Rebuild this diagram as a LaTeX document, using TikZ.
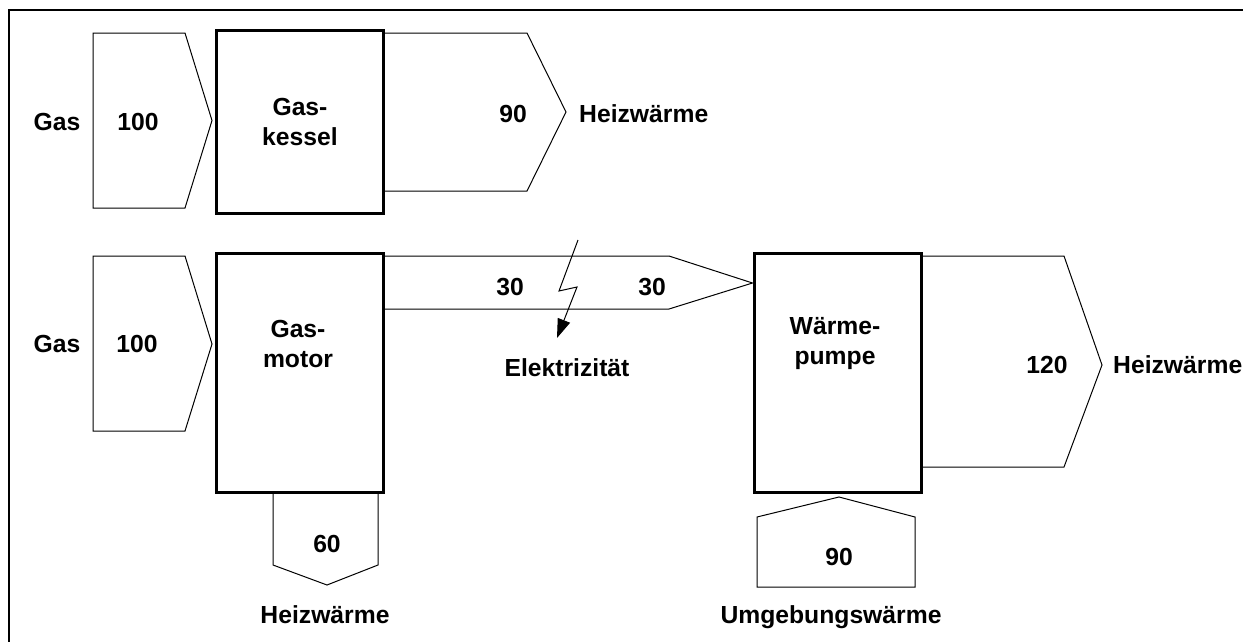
\documentclass[tikz,border=0pt]{standalone}
\usepackage{fontspec}
\setmainfont{Liberation Sans}
\usetikzlibrary{%
  arrows.meta,%
  positioning
}

\tikzset{
  flow/.style={draw=black,line width=1pt,line join=miter},
  unit/.style={draw=black,line width=3pt,minimum width=167pt,inner sep=0pt},
  lbl/.style={font=\fontsize{24.7pt}{30pt}\selectfont\bfseries,
    text height=17.7pt,text depth=0pt,inner sep=0pt},
  unitlbl/.style={font=\fontsize{24.7pt}{30pt}\selectfont\bfseries,
    align=center,inner sep=0pt}
}

\begin{document}
\begin{tikzpicture}[x=1pt,y=-1pt]
      \clip (0,0) rectangle (1243,641);
      \draw [line width=2pt] (9,700) -- (9,10) -- (1300,10);
      % units
      \node [unit,minimum height=183pt] (kessel) at (300,121.5) {};
      \node [unit,minimum height=239pt] (motor) at (299.5,372.5) {};
      \node [unit,minimum height=239pt] (pumpe) at (837.5,372.5) {};
      % flows
      \draw [flow] (93,33) -- (185,33) -- (212,120.5) -- (185,208) -- (93,208) -- cycle;
      \draw [flow] (kessel.east |- 0,33) -- (527,33) -- (566,112) -- (527,191) -- (kessel.east |- 0,191);
      \draw [flow] (93,256) -- (185,256) -- (212,344) -- (185,431) -- (93,431) -- cycle;
      \draw [flow] (motor.east |- 0,256) -- (669,256) -- (pumpe.west |- 0,283) -- (669,309) -- (motor.east |- 0,309);
      \draw [flow] (273,0 |- motor.south) -- (273,565) -- (327,585) -- (378,565) -- (378,0 |- motor.south);
      \draw [flow] (pumpe.east |- 0,256) -- (1064,256) -- (1102,365) -- (1064,467) -- (pumpe.east |- 0,467);
      \draw [flow] (757,587) -- (757,517) -- (839,497) -- (915,517) -- (915,587) -- cycle;
      % labels
      \node [lbl] (gasA) at (57,122) {Gas};
      \node [lbl] (inA) at (138,122) {100};
      \node [unitlbl] (kesselname) at (kessel) {Gas-\\kessel};
      \node [lbl] (outA) at (513,114) {90};
      \node [lbl,anchor=west] (heatA) at (579,114) {Heizwärme};
      \node [lbl] (gasB) at (57,344) {Gas};
      \node [lbl] (inB) at (137,344) {100};
      \node [unitlbl] (motorname) at (298,344) {Gas-\\motor};
      \node [lbl] (elA) at (510,287) {30};
      \node [lbl] (elB) at (652,287) {30};
      \node [lbl] (elec) at (567,368) {Elektrizität};
      \node [unitlbl] (pumpename) at (835,344) {Wärme-\\pumpe};
      \node [lbl] (outC) at (1047,365) {120};
      \node [lbl,anchor=west] (heatC) at (1113,365) {Heizwärme};
      \node [lbl] (outB) at (327,544) {60};
      \node [lbl] (heatB) at (325,615) {Heizwärme};
      \node [lbl] (ambient) at (839,557) {90};
      \node [lbl] (ambientname) at (831,615) {Umgebungswärme};
      % lightning
      \coordinate (bolt) at (578,240);
      \coordinate (zap) at (557,338);
      \draw [line width=1pt,-{Triangle[length=19pt,width=13pt]}]
        (bolt) -- (559,291) -- (577,287) -- (zap);
    \end{tikzpicture}
\end{document}
